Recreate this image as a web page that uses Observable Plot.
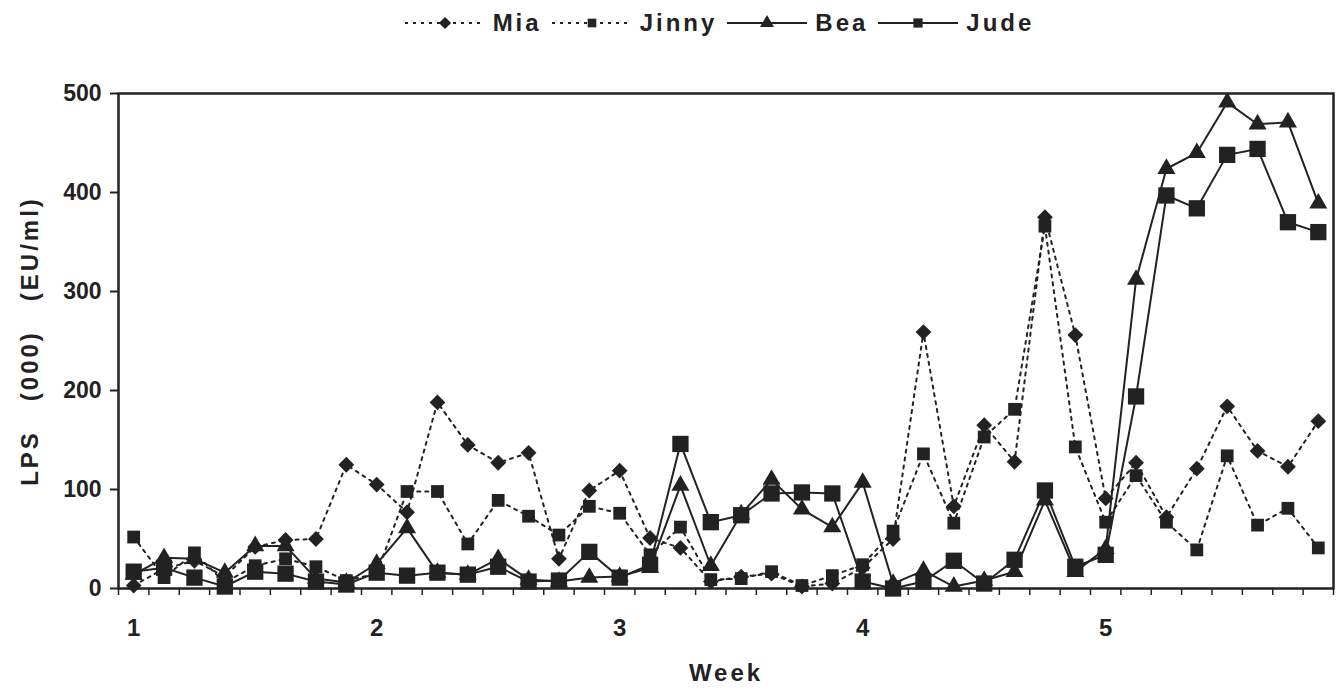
<!DOCTYPE html>
<html><head><meta charset="utf-8">
<script src="https://cdn.jsdelivr.net/npm/d3@7"></script>
<script src="https://cdn.jsdelivr.net/npm/@observablehq/plot@0.6"></script>
<style>
body{margin:0;background:#fff;font-family:"Liberation Sans",Arial,sans-serif;color:#222;}
#legend{height:45px;display:flex;justify-content:center;align-items:center;padding-left:110px;box-sizing:border-box;width:1339px;font-weight:bold;font-size:24px;letter-spacing:3px;}
#legend .item{display:flex;align-items:center;margin-right:10px;}
#legend svg{margin-right:8px;}
#chart svg text{white-space:pre;}
</style></head><body>
<div id="legend"></div>
<div id="chart"></div>
<script>
// ---- data ----
const seriesNames = ["Mia", "Jinny", "Bea", "Jude"];
const weeks = ["1", "2", "3", "4", "5"];
const samplesPerWeek = 8;
const yTicks = [0, 100, 200, 300, 400, 500];
const mia   = [3, 20, 28, 12, 42, 49, 50, 125, 105, 77, 188, 145, 127, 137, 30, 99, 119, 51, 41, 7, 12, 15, 2, 5, 21, 50, 259, 83, 165, 128, 375, 256, 91, 127, 72, 121, 184, 139, 123, 169];
const jinny = [52, 11, 36, 6, 23, 30, 22, 8, 15, 98, 98, 45, 89, 73, 54, 83, 76, 34, 62, 9, 10, 17, 3, 13, 24, 58, 136, 66, 153, 181, 366, 143, 67, 114, 67, 39, 134, 64, 81, 41];
const bea   = [14, 31, 30, 16, 43, 43, 10, 6, 25, 61, 16, 14, 30, 9, 7, 11, 12, 21, 104, 23, 75, 110, 80, 62, 107, 5, 18, 2, 8, 17, 89, 17, 40, 312, 424, 440, 491, 469, 471, 389];
const jude  = [17, 21, 11, 2, 17, 15, 7, 4, 16, 13, 16, 14, 22, 7, 8, 37, 11, 24, 146, 67, 74, 96, 97, 96, 7, 0, 7, 28, 5, 29, 99, 22, 34, 194, 397, 384, 438, 444, 370, 360];
const yTitle = "LPS\u00a0\u00a0 (000)\u00a0\u00a0 (EU/ml)";
const xTitle = "Week";

// ---- symbols ----
const diamond = {draw(ctx, size) { const h = Math.sqrt(size / 2); ctx.moveTo(0, -h); ctx.lineTo(h, 0); ctx.lineTo(0, h); ctx.lineTo(-h, 0); ctx.closePath(); }};
const ink = "#222";
const styles = {
  Mia:   {values: mia,   dash: "3,5", symbol: diamond,    r: 6.3, legendSize: 75},
  Jinny: {values: jinny, dash: "3,5", symbol: "square",   r: 7.2, legendSize: 75},
  Bea:   {values: bea,   dash: null,  symbol: "triangle", r: 6.7, legendSize: 85},
  Jude:  {values: jude,  dash: null,  symbol: "square",   r: 9.2, legendSize: 85}
};

const n = mia.length;
const marks = [];
for (const name of seriesNames) {
  const s = styles[name];
  const rows = s.values.map((v, i) => ({i, v}));
  marks.push(Plot.line(rows, {x: "i", y: "v", stroke: ink, strokeWidth: 2, strokeDasharray: s.dash ?? undefined}));
}
for (const name of seriesNames) {
  const s = styles[name];
  const rows = s.values.map((v, i) => ({i, v}));
  marks.push(Plot.dot(rows, {x: "i", y: "v", symbol: s.symbol, r: s.r, fill: ink, stroke: "none"}));
}

const boundaries = d3.range(n + 1).map(k => k - 0.5);
const weekStarts = weeks.map((w, k) => k * samplesPerWeek);

const chart = Plot.plot({
  width: 1339, height: 649,
  marginLeft: 118, marginRight: 6, marginTop: 48, marginBottom: 106,
  x: {domain: [-0.5, n - 0.5]},
  y: {domain: [0, 500]},
  style: {fontFamily: "'Liberation Sans', Arial, sans-serif", fontSize: "23px", fontWeight: "bold", color: ink, background: "#fff"},
  marks: [
    Plot.axisY({ticks: yTicks, tickSize: 8, tickPadding: 9, tickFormat: d => String(d), label: null, stroke: ink, strokeWidth: 2, fontSize: 23}),
    Plot.axisX({ticks: boundaries, tickSize: 7, tickFormat: () => "", label: null, stroke: ink, strokeWidth: 1.5}),
    Plot.axisX({ticks: weekStarts, tickSize: 0, tickPadding: 30, tickFormat: i => weeks[Math.round(i / samplesPerWeek)], label: null, fontSize: 24}),
    Plot.text([yTitle], {frameAnchor: "left", rotate: -90, dx: -88, textAnchor: "middle", text: d => d, fontSize: 24, fontWeight: "bold", fill: ink}),
    Plot.text([xTitle], {frameAnchor: "bottom", dy: 92, textAnchor: "middle", text: d => d, fontSize: 24, fontWeight: "bold", fill: ink}),
    ...marks,
    Plot.frame({stroke: ink, strokeWidth: 2.5})
  ]
});
// letter spacing for the two axis titles
d3.select(chart).selectAll("text").each(function() {
  const t = this.textContent;
  if (t === yTitle || t === xTitle) this.style.letterSpacing = "3px";
});
document.getElementById("chart").appendChild(chart);

// ---- legend ----
const legend = d3.select("#legend");
for (const name of seriesNames) {
  const s = styles[name];
  const item = legend.append("div").attr("class", "item");
  const svg = item.append("svg").attr("width", 80).attr("height", 20);
  svg.append("line").attr("x1", 0).attr("x2", 80).attr("y1", 10).attr("y2", 10)
    .attr("stroke", ink).attr("stroke-width", 2).attr("stroke-dasharray", s.dash);
  const sym = typeof s.symbol === "string" ? (s.symbol === "square" ? d3.symbolSquare : d3.symbolTriangle) : s.symbol;
  svg.append("path").attr("transform", "translate(40,10)").attr("d", d3.symbol(sym, s.legendSize)).attr("fill", ink);
  item.append("span").text(name);
}
</script>
</body></html>
